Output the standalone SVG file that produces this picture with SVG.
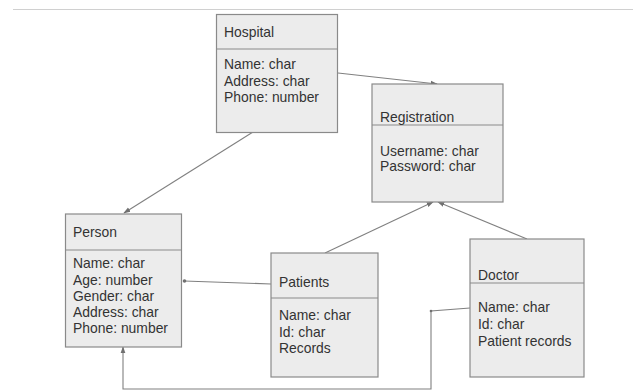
<svg xmlns="http://www.w3.org/2000/svg" width="633" height="392" viewBox="0 0 633 392">
<defs>
<style>
.box{fill:#ececec;stroke:#8a8a8a;stroke-width:1.2}
.div{stroke:#8a8a8a;stroke-width:1.2}
.t{font-family:"Liberation Sans",Arial,sans-serif;font-size:13.9px;fill:#333}
.c{fill:none;stroke:#808080;stroke-width:1.1}
.dot{fill:#707070}
</style>
<marker id="arr" viewBox="0 0 10 10" refX="9" refY="5" markerWidth="7" markerHeight="7" orient="auto" markerUnits="userSpaceOnUse">
<path d="M0,1.5 L10,5 L0,8.5 z" fill="#707070"/>
</marker>
</defs>
<rect width="633" height="392" fill="#fff"/>
<line x1="13" y1="9.5" x2="633" y2="9.5" stroke="#d0d0d0" stroke-width="1"/>
<g id="connectors">
<line class="c" x1="338" y1="73" x2="437" y2="84" marker-end="url(#arr)"/>
<line class="c" x1="253" y1="132" x2="124" y2="213" marker-end="url(#arr)"/>
<line class="c" x1="271" y1="284" x2="184" y2="281"/>
<circle class="dot" cx="184.5" cy="281" r="1.8"/>
<line class="c" x1="325" y1="253" x2="433" y2="202" marker-end="url(#arr)"/>
<line class="c" x1="527" y1="239" x2="438" y2="202" marker-end="url(#arr)"/>
<polyline class="c" points="470,308 431,311 431,389 123,389 123,347" marker-end="url(#arr)"/>
<circle class="dot" cx="431" cy="311" r="1.3"/>
</g>
<g id="hospital">
<rect class="box" x="216.5" y="14.5" width="121" height="118"/>
<line class="div" x1="216.5" y1="49" x2="337.5" y2="49"/>
<text class="t" x="224" y="37">Hospital</text>
<text class="t" x="224" y="69">Name: char</text>
<text class="t" x="224" y="86">Address: char</text>
<text class="t" x="224" y="102">Phone: number</text>
</g>
<g id="registration">
<rect class="box" x="372" y="84" width="131" height="118"/>
<line class="div" x1="372" y1="125" x2="503" y2="125"/>
<text class="t" x="380" y="122">Registration</text>
<text class="t" x="380" y="156">Username: char</text>
<text class="t" x="380" y="171">Password: char</text>
</g>
<g id="person">
<rect class="box" x="65.5" y="214" width="116" height="133"/>
<line class="div" x1="65.5" y1="250" x2="181.5" y2="250"/>
<text class="t" x="73" y="237">Person</text>
<text class="t" x="73" y="268">Name: char</text>
<text class="t" x="73" y="285">Age: number</text>
<text class="t" x="73" y="301">Gender: char</text>
<text class="t" x="73" y="317">Address: char</text>
<text class="t" x="73" y="333">Phone: number</text>
</g>
<g id="patients">
<rect class="box" x="271" y="253" width="107" height="124"/>
<line class="div" x1="271" y1="298" x2="378" y2="298"/>
<text class="t" x="279" y="287">Patients</text>
<text class="t" x="279" y="320">Name: char</text>
<text class="t" x="279" y="337">Id: char</text>
<text class="t" x="279" y="353">Records</text>
</g>
<g id="doctor">
<rect class="box" x="470" y="239" width="114" height="138"/>
<line class="div" x1="470" y1="283" x2="584" y2="283"/>
<text class="t" x="478" y="280">Doctor</text>
<text class="t" x="478" y="312">Name: char</text>
<text class="t" x="478" y="329">Id: char</text>
<text class="t" x="478" y="346">Patient records</text>
</g>
</svg>
